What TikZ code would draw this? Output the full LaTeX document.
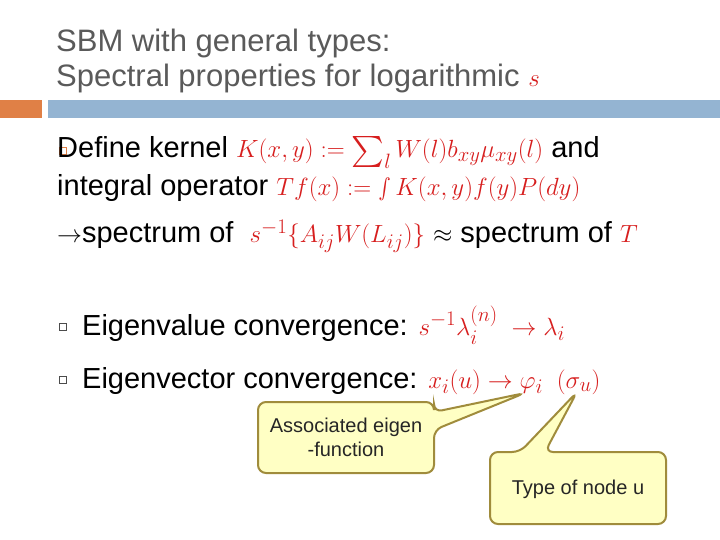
\documentclass[tikz,border=0pt]{standalone}
\usepackage{amsmath,amssymb}
\usepackage{fontspec}
\setmainfont{Liberation Sans}
\definecolor{bar}{RGB}{148,180,210}
\definecolor{orng}{RGB}{224,128,70}
\definecolor{ttl}{RGB}{90,90,90}
\definecolor{mred}{RGB}{215,30,30}
\definecolor{cfill}{RGB}{255,255,196}
\definecolor{cdraw}{RGB}{160,140,60}
\tikzset{
 ttext/.style={anchor=base west,inner sep=0,font=\fontsize{31}{34}\selectfont,text=ttl},
 btext/.style={anchor=base west,inner sep=0,font=\fontsize{29}{32}\selectfont},
 ctext/.style={align=center,inner sep=0,font=\fontsize{20}{24}\selectfont,text=black!85},
 call/.style={fill=cfill,draw=cdraw,line width=2pt,rounded corners=8pt},
 bul/.style={draw=black!70,line width=0.8pt,minimum size=7pt,inner sep=0}
}
\newcommand{\rmth}[1]{\textcolor{mred}{\fontsize{31}{32}\selectfont$#1$}}
\newcommand{\defeq}{\mathrel{:=}}
\begin{document}
\begin{tikzpicture}[x=1pt,y=-1pt]
\useasboundingbox[fill=white] (0,0) rectangle (720,540);
\node[ttext] (t1) at (56,52) {SBM with general types:};
\node[ttext] (t2) at (56,87) {Spectral properties for logarithmic \textcolor{mred}{$s$}};
\fill[orng] (0,100) rectangle (42,118);
\fill[bar] (48,100) rectangle (720,118);
\node[bul,draw=orng] (b0) at (63,151) {};
\node[btext] (l1) at (57,158) {Define kernel \rmth{K(x,y)\defeq \textstyle\sum\nolimits_{l} W(l)b_{xy}\mu_{xy}(l)} and};
\node[btext] (l2) at (57,196) {integral operator \rmth{Tf(x)\defeq \smallint K(x,y)f(y)P(dy)}};
\node[btext] (l3) at (57,243) {$\rightarrow$spectrum of \ \rmth{s^{-1}\{A_{ij}W(L_{ij})\}} $\approx$ spectrum of \rmth{T}};
\node[bul] (b1) at (63,327) {};
\node[btext] (l4) at (82,335) {Eigenvalue convergence: \rmth{s^{-1}\lambda_i^{(n)}\;\rightarrow \lambda_i}};
\node[bul] (b2) at (63,380) {};
\node[btext] (l5) at (82,388) {Eigenvector convergence: \rmth{x_i(u)\rightarrow \varphi_i\;\;(\sigma_u)}};
\coordinate (p1) at (525,393);
\coordinate (p2) at (577,392);
\draw[call] (258,402) -- (434,402) -- (434,412) -- (p1) -- (434,430) -- (434,473) -- (258,473) -- cycle;
\draw[call] (490,452) -- (520,452) -- (p2) -- (545,452) -- (666,452) -- (666,524) -- (490,524) -- cycle;
\node[ctext] (c1) at (346,437) {Associated eigen\\-function};
\node[ctext] (c2) at (578,489) {Type of node u};
\end{tikzpicture}
\end{document}
